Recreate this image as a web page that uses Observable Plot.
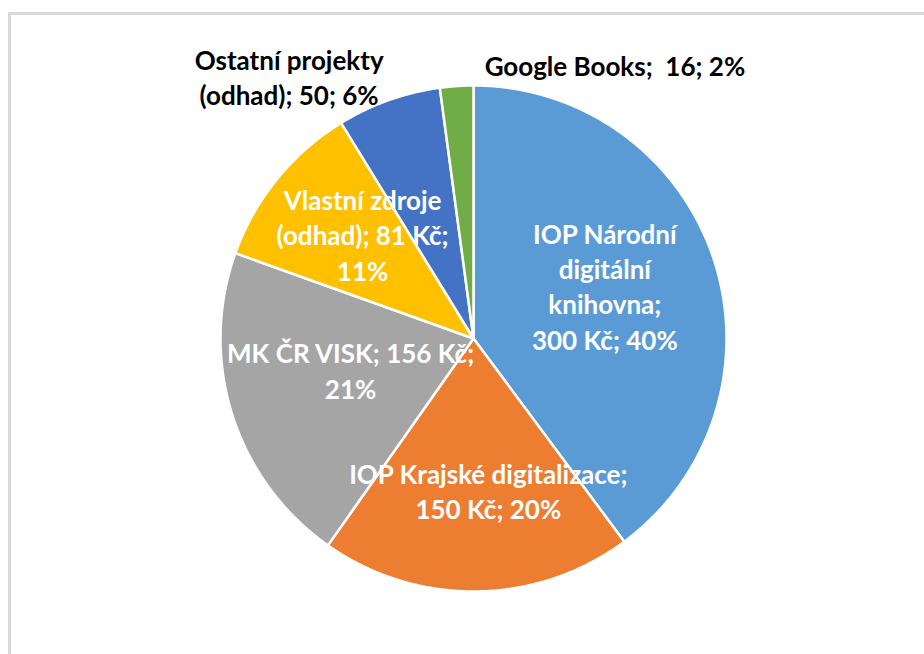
<!DOCTYPE html>
<html>
<head>
<meta charset="utf-8">
<script src="https://cdn.jsdelivr.net/npm/d3@7"></script>
<script src="https://cdn.jsdelivr.net/npm/@observablehq/plot@0.6"></script>
<style>
  html, body { margin: 0; padding: 0; background: #fff; overflow: hidden; }
  #wrap { position: relative; width: 924px; height: 654px; }
  #border { position: absolute; left: 8px; top: 12px; width: 940px; height: 700px;
            border-left: 3px solid #d9d9d9; border-top: 3px solid #d9d9d9; box-sizing: border-box; }
  #chart { position: absolute; left: 0; top: 0; }
  svg text { font-family: Lato, "Open Sans", sans-serif; }
</style>
</head>
<body>
<div id="wrap"><div id="border"></div><div id="chart"></div></div>
<script>
// Data (clockwise from 12 o'clock)
const names = ["IOP Národní digitální knihovna", "IOP Krajské digitalizace", "MK ČR VISK",
               "Vlastní zdroje (odhad)", "Ostatní projekty (odhad)", "Google Books"];
const values = [300, 150, 156, 81, 50, 16];
const labels = ["IOP Národní\ndigitální\nknihovna;\n300 Kč; 40%",
                "IOP Krajské digitalizace;\n150 Kč; 20%",
                "MK ČR VISK; 156 Kč;\n21%",
                "Vlastní zdroje\n(odhad); 81 Kč;\n11%",
                "Ostatní projekty\n(odhad); 50; 6%",
                "Google Books;  16; 2%"];
const colors = ["#5B9BD5", "#ED7D31", "#A5A5A5", "#FFC000", "#4472C4", "#70AD47"];
const inside = [true, true, true, true, false, false];

const W = 924, H = 654, cx = 473, cy = 338, R = 253;

const arcs = d3.pie().sort(null).value(d => d)(values);
const poly = [];
arcs.forEach((a, i) => {
  poly.push({name: names[i], x: 0, y: 0});
  const n = Math.max(4, Math.ceil((a.endAngle - a.startAngle) / 0.01));
  for (let k = 0; k <= n; k++) {
    const t = a.startAngle + (a.endAngle - a.startAngle) * k / n;
    poly.push({name: names[i], x: Math.sin(t), y: Math.cos(t)});
  }
});
const lab = arcs.map((a, i) => {
  const m = (a.startAngle + a.endAngle) / 2;
  const f = inside[i] ? 0.58 : 1.1;
  return {name: names[i], label: labels[i], x: f * Math.sin(m), y: f * Math.cos(m), inside: inside[i]};
});

const labelMark = (i, dx, dy) => Plot.text(lab.filter(d => d.name === names[i]), {
  x: "x", y: "y", text: "label", fill: inside[i] ? "white" : "#000",
  fontSize: 26, fontWeight: "bold", lineHeight: 1.36, lineAnchor: "middle", dx, dy
});

const chart = Plot.plot({
  width: W, height: H,
  margin: 0,
  x: {domain: [-cx / R, (W - cx) / R], range: [0, W], axis: null},
  y: {domain: [-(H - cy) / R, cy / R], range: [H, 0], axis: null},
  color: {domain: names, range: colors},
  marks: [
    Plot.line(poly, {x: "x", y: "y", z: "name", fill: "name", stroke: "white", strokeWidth: 2.5,
                     curve: "linear-closed"}),
    labelMark(0, -8, -7),
    labelMark(1, 13, 5),
    labelMark(2, 17, -13),
    labelMark(3, 3, -12),
    labelMark(4, -91, 0),
    labelMark(5, 160, 4)
  ]
});
document.getElementById("chart").appendChild(chart);
</script>
</body>
</html>
